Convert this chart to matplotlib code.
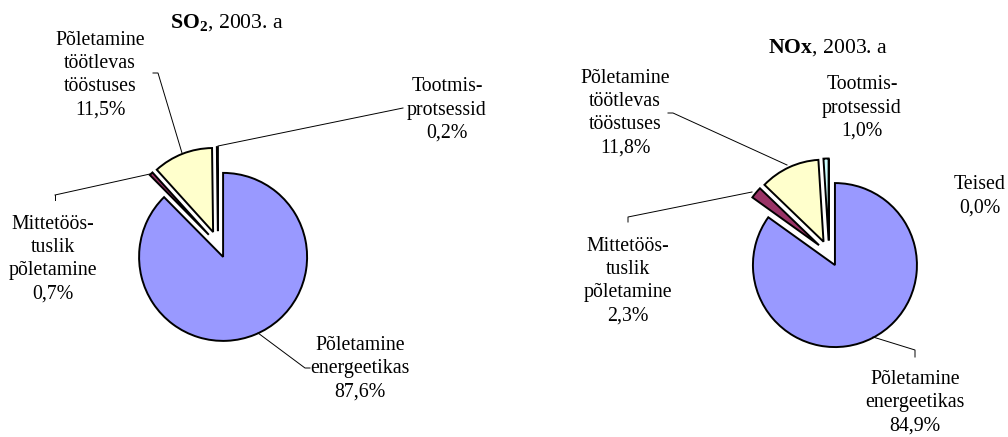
import matplotlib
matplotlib.use("Agg")
import matplotlib.pyplot as plt

# data
categories = ["Põletamine\nenergeetikas", "Mittetöös-\ntuslik\npõletamine",
              "Põletamine\ntöötlevas\ntööstuses", "Tootmis-\nprotsessid", "Teised"]
so2_values = [87.6, 0.7, 11.5, 0.2]
nox_values = [84.9, 2.3, 11.8, 1.0, 0.0]
so2_title = "SO_2"
nox_title = "NOx"
year = "2003. a"
colors = ["#9999FF", "#993366", "#FFFFCC", "#CCFFFF", "#660066"]

plt.rcParams["font.family"] = ["Liberation Serif", "DejaVu Serif"]
plt.rcParams["mathtext.fontset"] = "custom"
plt.rcParams["mathtext.rm"] = "Liberation Serif"
plt.rcParams["mathtext.bf"] = "Liberation Serif:bold"

W, H = 1008, 437
fig = plt.figure(figsize=(W / 100, H / 100), dpi=100)
ax = fig.add_axes([0, 0, 1, 1])

FS = 14.3
TFS = 15.7


def pct(v):
    return f"{v:.1f}%".replace(".", ",")


def draw_pie(values, center, radius, expl):
    # y axis is inverted (pixel coords), so angles run the other way round
    ax.pie(values, colors=colors[:len(values)], explode=[expl] * len(values),
           center=center, radius=radius, startangle=-90, counterclock=True,
           wedgeprops=dict(edgecolor="black", linewidth=1.4))


draw_pie(so2_values, (218, 244.5), 84, 13.4)
draw_pie(nox_values, (829, 253.5), 82, 13.0)

ax.set_xlim(0, W)
ax.set_ylim(H, 0)
ax.set_aspect("equal")
ax.axis("off")

# titles
ax.text(227, 23, r"$\mathbf{" + so2_title + "}$, " + year,
        ha="center", va="center", fontsize=TFS)
ax.text(828, 48, r"$\mathbf{" + nox_title + "}$, " + year,
        ha="center", va="center", fontsize=TFS)

# labels: (text, x, y)
so2_labels = [
    (categories[0] + "\n" + pct(so2_values[0]), 360, 369),
    (categories[1] + "\n" + pct(so2_values[1]), 53, 259),
    (categories[2] + "\n" + pct(so2_values[2]), 100, 75),
    (categories[3] + "\n" + pct(so2_values[3]), 447, 110),
]
nox_labels = [
    (categories[0] + "\n" + pct(nox_values[0]), 915, 403),
    (categories[1] + "\n" + pct(nox_values[1]), 628, 281),
    (categories[2] + "\n" + pct(nox_values[2]), 625, 113),
    (categories[3] + "\n" + pct(nox_values[3]), 862, 108),
    (categories[4] + "\n" + pct(nox_values[4]), 980, 196),
]
for txt, x, y in so2_labels + nox_labels:
    ax.text(x, y, txt, ha="center", va="center", fontsize=FS, linespacing=1.3)

# leader lines
leaders = [
    [(258, 333), (305, 368), (310, 368)],
    [(55, 195), (55, 200)],
    [(55, 195), (150, 174)],
    [(153, 73), (158, 73), (182, 153)],
    [(218, 146), (403, 108)],
    [(873, 337), (915, 350), (915, 357)],
    [(628, 222), (628, 217), (752, 192)],
    [(668, 113), (673, 113), (787, 165)],
]
for pts in leaders:
    xs, ys = zip(*pts)
    ax.plot(xs, ys, color="black", linewidth=0.7)

fig.savefig("out.png", dpi=100)
